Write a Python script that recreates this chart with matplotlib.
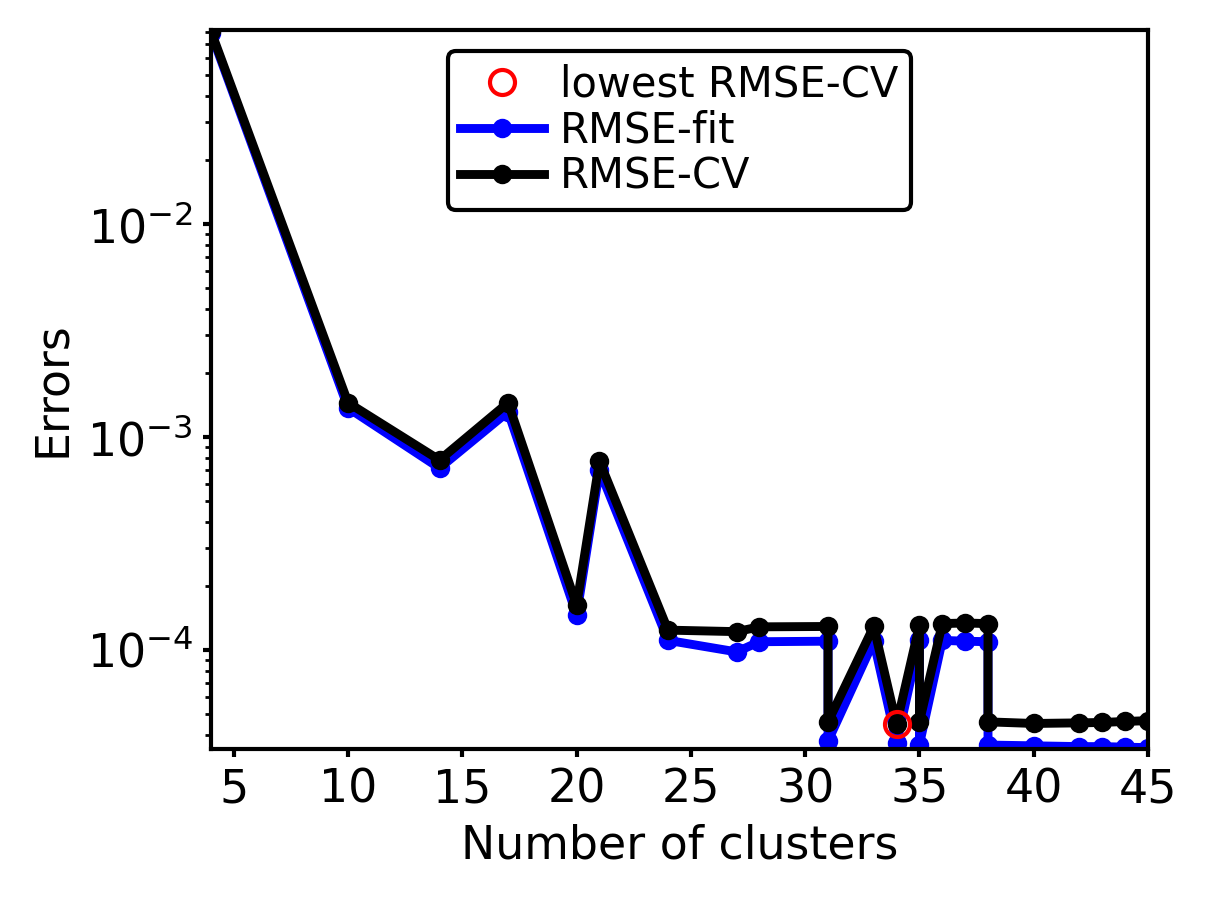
import matplotlib

matplotlib.use("Agg")
import matplotlib.pyplot as plt

# number of clusters (some counts appear twice, in the order they were tried)
n_clusters = [4, 10, 14, 17, 20, 21, 24, 27, 28, 31, 31, 33, 34, 35, 35, 36, 37, 38, 38, 40, 42, 43, 44, 45]
rmse_fit = [7.9e-2, 1.37e-3, 7.15e-4, 1.315e-3, 1.46e-4, 7.0e-4, 1.11e-4, 9.8e-5, 1.094e-4,
            1.10e-4, 3.74e-5, 1.10e-4, 3.65e-5, 1.11e-4, 3.6e-5, 1.11e-4, 1.10e-4, 1.094e-4,
            3.58e-5, 3.55e-5, 3.52e-5, 3.52e-5, 3.5e-5, 3.48e-5]
rmse_cv = [8.05e-2, 1.449e-3, 7.8e-4, 1.449e-3, 1.625e-4, 7.7e-4, 1.24e-4, 1.22e-4, 1.285e-4,
           1.29e-4, 4.6e-5, 1.29e-4, 4.48e-5, 1.31e-4, 4.6e-5, 1.33e-4, 1.34e-4, 1.33e-4,
           4.6e-5, 4.52e-5, 4.55e-5, 4.57e-5, 4.62e-5, 4.66e-5]

best = min(range(len(rmse_cv)), key=lambda i: rmse_cv[i])

plt.rcParams["font.size"] = 16.5
plt.rcParams["axes.linewidth"] = 1.5

fig = plt.figure(figsize=(6.035, 4.505), dpi=200)
ax = fig.add_axes([0.1748, 0.1687, 0.7763, 0.798])

ax.plot(n_clusters, rmse_fit, "-o", color="blue", lw=3.2, ms=6, label="RMSE-fit", zorder=2)
ax.plot(n_clusters, rmse_cv, "-o", color="black", lw=3.2, ms=6, label="RMSE-CV", zorder=3)
ax.plot(n_clusters[best], rmse_cv[best], "o", mfc="none", mec="red", ms=9, mew=1.5,
        label="lowest RMSE-CV", zorder=4)

ax.set_yscale("log")
ax.set_xlim(4, 45)
ax.set_ylim(3.43e-5, 8.15e-2)
ax.set_xticks(range(5, 46, 5))
ax.tick_params(which="major", length=3, width=1.5, labelsize=16.5)
ax.tick_params(which="minor", length=2, width=1.0)
ax.set_xlabel("Number of clusters", fontsize=16.5)
ax.set_ylabel("Errors", fontsize=16.5)

handles, labels = ax.get_legend_handles_labels()
order = [2, 0, 1]
leg = ax.legend([handles[i] for i in order], [labels[i] for i in order], loc="upper center",
                fontsize=15, frameon=True, fancybox=True, framealpha=1,
                handlelength=2.0, handletextpad=0.4, borderpad=0.3, labelspacing=0.1)
leg.get_frame().set_edgecolor("black")
leg.get_frame().set_linewidth(1.5)

fig.savefig("out.png", dpi=200)
